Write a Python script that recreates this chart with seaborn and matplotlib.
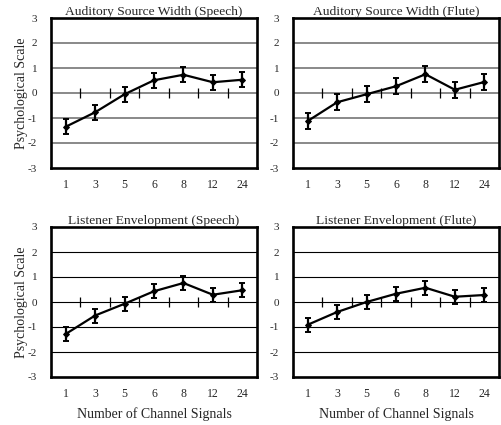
import matplotlib
matplotlib.use("Agg")
import matplotlib.pyplot as plt
import seaborn as sns
import numpy as np
import pandas as pd

categories = ["1", "3", "5", "6", "8", "12", "24"]
titles = ["Auditory Source Width (Speech)", "Auditory Source Width (Flute)",
          "Listener Envelopment (Speech)", "Listener Envelopment (Flute)"]
asw_speech = [-1.35, -0.77, -0.05, 0.51, 0.73, 0.43, 0.53]
asw_flute = [-1.12, -0.37, -0.05, 0.27, 0.75, 0.13, 0.44]
lev_speech = [-1.28, -0.54, -0.07, 0.43, 0.76, 0.29, 0.47]
lev_flute = [-0.91, -0.40, 0.00, 0.33, 0.57, 0.21, 0.28]
asw_speech_err = [0.30, 0.30, 0.30, 0.30, 0.30, 0.30, 0.30]
asw_flute_err = [0.32, 0.32, 0.32, 0.32, 0.32, 0.32, 0.32]
lev_speech_err = [0.28, 0.28, 0.28, 0.28, 0.28, 0.28, 0.28]
lev_flute_err = [0.27, 0.27, 0.27, 0.27, 0.27, 0.27, 0.27]
yticks = [-3, -2, -1, 0, 1, 2, 3]

series = [asw_speech, asw_flute, lev_speech, lev_flute]
errs = [asw_speech_err, asw_flute_err, lev_speech_err, lev_flute_err]

sns.set_style("white")
plt.rcParams['font.family'] = ['Liberation Serif', 'DejaVu Serif']

fig = plt.figure(figsize=(5.01, 4.25), dpi=100)
lefts = [51/501, 293/501]
width = 206/501
bottoms = [1 - 168/425, 1 - 377/425]
height = 150/425

for i in range(4):
    r, c = divmod(i, 2)
    ax = fig.add_axes([lefts[c], bottoms[r], width, height])
    xs = np.arange(len(categories))
    df = pd.DataFrame({"x": xs, "y": series[i]})
    gcol = "#808080" if r == 0 else "black"
    glw = 1.3 if r == 0 else 0.8
    for yv in yticks[1:-1]:
        ax.axhline(yv, color=gcol, lw=glw, zorder=1)
    # category boundary ticks on the zero line
    bx = np.arange(len(categories) - 1) + 0.5
    ax.plot(bx, np.zeros_like(bx), linestyle="none", marker="|", ms=7,
            mew=0.9, color="black", zorder=2)
    ax.errorbar(xs, series[i], yerr=errs[i], fmt="none", ecolor="black",
                elinewidth=1.6, capsize=2.2, capthick=1.4, zorder=3)
    sns.lineplot(data=df, x="x", y="y", ax=ax, color="black", lw=1.6,
                 marker="D", markersize=3, markeredgecolor="black", zorder=4)
    ax.set_xlim(-0.5, len(categories) - 0.5)
    ax.set_ylim(-3, 3)
    ax.set_xticks(xs)
    ax.set_xticklabels(categories, fontsize=8.5)
    ax.set_yticks(yticks)
    ax.set_yticklabels([str(v) for v in yticks], fontsize=8)
    ax.tick_params(length=0)
    ax.tick_params(axis="x", pad=8)
    ax.tick_params(axis="y", pad=10)
    for s in ax.spines.values():
        s.set_linewidth(1.9)
        s.set_color("black")
    ax.set_title(titles[i], fontsize=9.7, pad=2)
    ax.set_xlabel("Number of Channel Signals" if r == 1 else "", fontsize=10, labelpad=5)
    ax.set_ylabel("Psychological Scale" if c == 0 else "", fontsize=10, labelpad=0)

fig.savefig("out.png", dpi=100)
